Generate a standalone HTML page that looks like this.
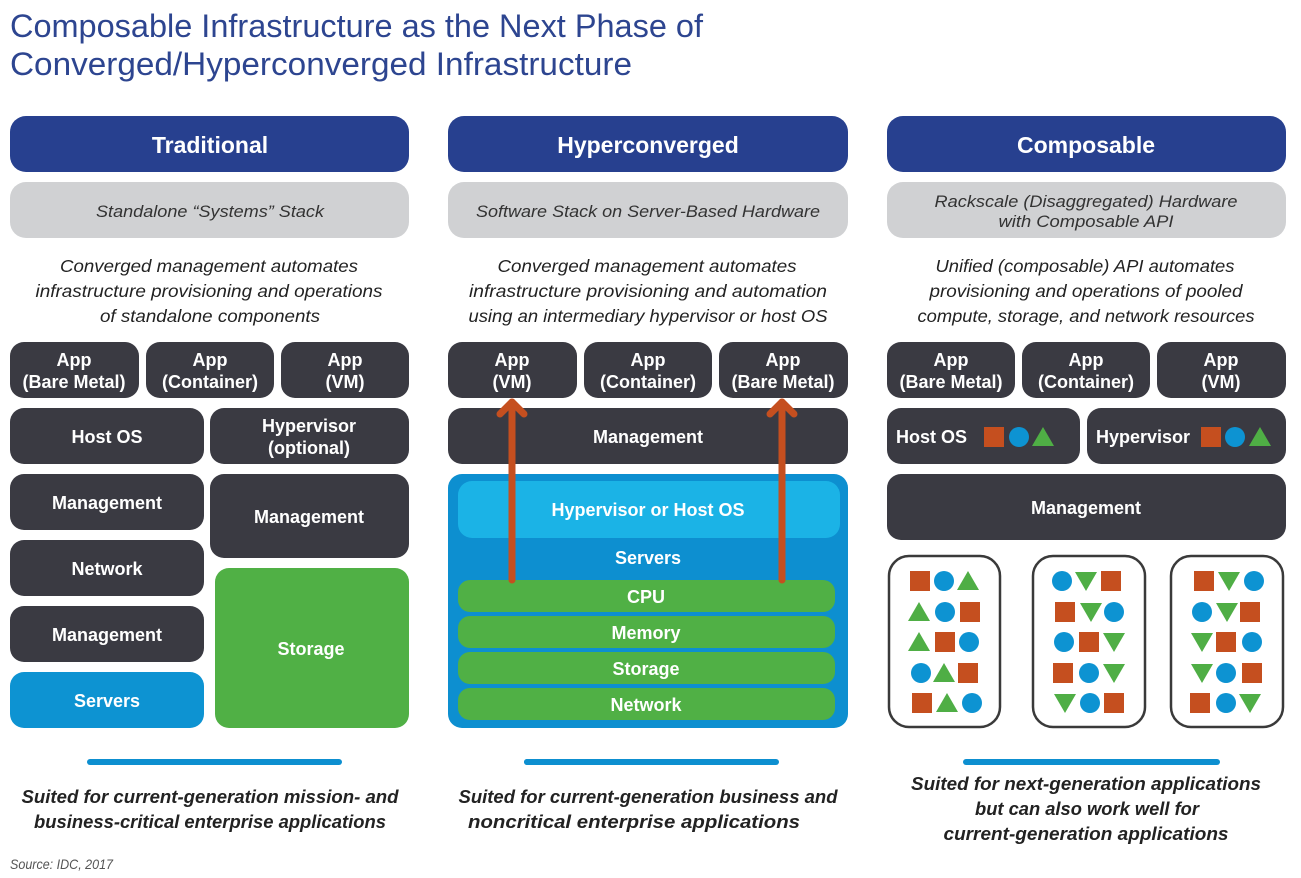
<!DOCTYPE html>
<html><head><meta charset="utf-8"><style>
html,body{margin:0;padding:0;background:#fff;}
svg{display:block;}
text{font-family:"Liberation Sans",sans-serif;}
.w{fill:#fff;font-weight:bold;font-size:18px;text-anchor:middle;}
.h{fill:#fff;font-weight:bold;font-size:23px;text-anchor:middle;}
.g{fill:#333;font-style:italic;font-size:17px;text-anchor:middle;}
.d{fill:#222;font-style:italic;font-size:17.5px;text-anchor:middle;}
.b{fill:#222;font-style:italic;font-weight:bold;font-size:18px;text-anchor:middle;}
.dk{fill:#3a3a42;}
</style></head><body>
<svg width="1301" height="878" viewBox="0 0 1301 878" xmlns="http://www.w3.org/2000/svg">
<defs>
<g id="S"><rect x="-10" y="-10" width="20" height="20" fill="#c54f1f"/></g>
<g id="C"><circle r="10" fill="#0d93d2"/></g>
<g id="T"><polygon points="0,-10 11,9 -11,9" fill="#4fae45"/></g>
<g id="V"><polygon points="0,10 11,-9 -11,-9" fill="#4fae45"/></g>
</defs>
<!-- title -->
<text x="10" y="37" font-size="32" fill="#2d4590" textLength="693" lengthAdjust="spacingAndGlyphs">Composable Infrastructure as the Next Phase of</text>
<text x="10" y="75" font-size="32" fill="#2d4590" textLength="622" lengthAdjust="spacingAndGlyphs">Converged/Hyperconverged Infrastructure</text>

<!-- headers -->
<rect x="10" y="116" width="399" height="56" rx="16" fill="#27408f"/>
<text class="h" x="210" y="153">Traditional</text>
<rect x="448" y="116" width="400" height="56" rx="16" fill="#27408f"/>
<text class="h" x="648" y="153">Hyperconverged</text>
<rect x="887" y="116" width="399" height="56" rx="16" fill="#27408f"/>
<text class="h" x="1086" y="153">Composable</text>

<rect x="10" y="182" width="399" height="56" rx="16" fill="#d0d1d3"/>
<text class="g" x="210" y="217" textLength="228" lengthAdjust="spacingAndGlyphs">Standalone “Systems” Stack</text>
<rect x="448" y="182" width="400" height="56" rx="16" fill="#d0d1d3"/>
<text class="g" x="648" y="217" textLength="344" lengthAdjust="spacingAndGlyphs">Software Stack on Server-Based Hardware</text>
<rect x="887" y="182" width="399" height="56" rx="16" fill="#d0d1d3"/>
<text class="g" x="1086" y="207" textLength="303" lengthAdjust="spacingAndGlyphs">Rackscale (Disaggregated) Hardware</text>
<text class="g" x="1086" y="227" textLength="175" lengthAdjust="spacingAndGlyphs">with Composable API</text>

<!-- descriptions -->
<text class="d" x="209" y="272" textLength="298" lengthAdjust="spacingAndGlyphs">Converged management automates</text>
<text class="d" x="209" y="297" textLength="347" lengthAdjust="spacingAndGlyphs">infrastructure provisioning and operations</text>
<text class="d" x="210" y="322" textLength="220" lengthAdjust="spacingAndGlyphs">of standalone components</text>
<text class="d" x="647" y="272" textLength="299" lengthAdjust="spacingAndGlyphs">Converged management automates</text>
<text class="d" x="648" y="297" textLength="358" lengthAdjust="spacingAndGlyphs">infrastructure provisioning and automation</text>
<text class="d" x="648" y="322" textLength="359" lengthAdjust="spacingAndGlyphs">using an intermediary hypervisor or host OS</text>
<text class="d" x="1085" y="272" textLength="299" lengthAdjust="spacingAndGlyphs">Unified (composable) API automates</text>
<text class="d" x="1086" y="297" textLength="313" lengthAdjust="spacingAndGlyphs">provisioning and operations of pooled</text>
<text class="d" x="1086" y="322" textLength="337" lengthAdjust="spacingAndGlyphs">compute, storage, and network resources</text>

<!-- col1 -->
<rect class="dk" x="10" y="342" width="129" height="56" rx="14"/>
<text class="w" x="74" y="366">App</text><text class="w" x="74" y="388">(Bare Metal)</text>
<rect class="dk" x="146" y="342" width="128" height="56" rx="14"/>
<text class="w" x="210" y="366">App</text><text class="w" x="210" y="388">(Container)</text>
<rect class="dk" x="281" y="342" width="128" height="56" rx="14"/>
<text class="w" x="345" y="366">App</text><text class="w" x="345" y="388">(VM)</text>
<rect class="dk" x="10" y="408" width="194" height="56" rx="14"/>
<text class="w" x="107" y="443">Host OS</text>
<rect class="dk" x="210" y="408" width="199" height="56" rx="14"/>
<text class="w" x="309" y="432">Hypervisor</text><text class="w" x="309" y="454">(optional)</text>
<rect class="dk" x="10" y="474" width="194" height="56" rx="14"/>
<text class="w" x="107" y="509">Management</text>
<rect class="dk" x="210" y="474" width="199" height="84" rx="14"/>
<text class="w" x="309" y="523">Management</text>
<rect class="dk" x="10" y="540" width="194" height="56" rx="14"/>
<text class="w" x="107" y="575">Network</text>
<rect class="dk" x="10" y="606" width="194" height="56" rx="14"/>
<text class="w" x="107" y="641">Management</text>
<rect x="10" y="672" width="194" height="56" rx="14" fill="#0d93d2"/>
<text class="w" x="107" y="707">Servers</text>
<rect x="215" y="568" width="194" height="160" rx="14" fill="#50b045"/>
<text class="w" x="311" y="655">Storage</text>

<!-- col2 -->
<rect class="dk" x="448" y="342" width="129" height="56" rx="14"/>
<text class="w" x="512" y="366">App</text><text class="w" x="512" y="388">(VM)</text>
<rect class="dk" x="584" y="342" width="128" height="56" rx="14"/>
<text class="w" x="648" y="366">App</text><text class="w" x="648" y="388">(Container)</text>
<rect class="dk" x="719" y="342" width="129" height="56" rx="14"/>
<text class="w" x="783" y="366">App</text><text class="w" x="783" y="388">(Bare Metal)</text>
<rect class="dk" x="448" y="408" width="400" height="56" rx="14"/>
<text class="w" x="648" y="443">Management</text>
<rect x="448" y="474" width="400" height="254" rx="14" fill="#0d8fd0"/>
<rect x="458" y="481" width="382" height="57" rx="14" fill="#1bb3e6"/>
<text class="w" x="648" y="516">Hypervisor or Host OS</text>
<text class="w" x="648" y="564">Servers</text>
<rect x="458" y="580" width="377" height="32" rx="12" fill="#50b045"/>
<text class="w" x="646" y="603">CPU</text>
<rect x="458" y="616" width="377" height="32" rx="12" fill="#50b045"/>
<text class="w" x="646" y="639">Memory</text>
<rect x="458" y="652" width="377" height="32" rx="12" fill="#50b045"/>
<text class="w" x="646" y="675">Storage</text>
<rect x="458" y="688" width="377" height="32" rx="12" fill="#50b045"/>
<text class="w" x="646" y="711">Network</text>
<g stroke="#c54f1f" stroke-width="7" fill="none" stroke-linecap="round" stroke-linejoin="round">
<line x1="512" y1="580" x2="512" y2="402"/><polyline points="500,414 512,402 524,414"/>
<line x1="782" y1="580" x2="782" y2="402"/><polyline points="770,414 782,402 794,414"/>
</g>

<!-- col3 -->
<rect class="dk" x="887" y="342" width="128" height="56" rx="14"/>
<text class="w" x="951" y="366">App</text><text class="w" x="951" y="388">(Bare Metal)</text>
<rect class="dk" x="1022" y="342" width="128" height="56" rx="14"/>
<text class="w" x="1086" y="366">App</text><text class="w" x="1086" y="388">(Container)</text>
<rect class="dk" x="1157" y="342" width="129" height="56" rx="14"/>
<text class="w" x="1221" y="366">App</text><text class="w" x="1221" y="388">(VM)</text>
<rect class="dk" x="887" y="408" width="193" height="56" rx="14"/>
<text class="w" x="896" y="443" style="text-anchor:start">Host OS</text>
<use href="#S" x="994" y="437"/><use href="#C" x="1019" y="437"/><use href="#T" x="1043" y="437"/>
<rect class="dk" x="1087" y="408" width="199" height="56" rx="14"/>
<text class="w" x="1096" y="443" style="text-anchor:start">Hypervisor</text>
<use href="#S" x="1211" y="437"/><use href="#C" x="1235" y="437"/><use href="#T" x="1260" y="437"/>
<rect class="dk" x="887" y="474" width="399" height="66" rx="14"/>
<text class="w" x="1086" y="514">Management</text>

<g fill="#fff" stroke="#3a3a3a" stroke-width="2.5">
<rect x="889" y="556" width="111" height="171" rx="20"/>
<rect x="1033" y="556" width="112" height="171" rx="20"/>
<rect x="1171" y="556" width="112" height="171" rx="20"/>
</g>
<!-- card1 -->
<use href="#S" x="920" y="581"/><use href="#C" x="944" y="581"/><use href="#T" x="968" y="581"/>
<use href="#T" x="919" y="612"/><use href="#C" x="945" y="612"/><use href="#S" x="970" y="612"/>
<use href="#T" x="919" y="642"/><use href="#S" x="945" y="642"/><use href="#C" x="969" y="642"/>
<use href="#C" x="921" y="673"/><use href="#T" x="944" y="673"/><use href="#S" x="968" y="673"/>
<use href="#S" x="922" y="703"/><use href="#T" x="947" y="703"/><use href="#C" x="972" y="703"/>
<!-- card2 -->
<use href="#C" x="1062" y="581"/><use href="#V" x="1086" y="581"/><use href="#S" x="1111" y="581"/>
<use href="#S" x="1065" y="612"/><use href="#V" x="1091" y="612"/><use href="#C" x="1114" y="612"/>
<use href="#C" x="1064" y="642"/><use href="#S" x="1089" y="642"/><use href="#V" x="1114" y="642"/>
<use href="#S" x="1063" y="673"/><use href="#C" x="1089" y="673"/><use href="#V" x="1114" y="673"/>
<use href="#V" x="1065" y="703"/><use href="#C" x="1090" y="703"/><use href="#S" x="1114" y="703"/>
<!-- card3 -->
<use href="#S" x="1204" y="581"/><use href="#V" x="1229" y="581"/><use href="#C" x="1254" y="581"/>
<use href="#C" x="1202" y="612"/><use href="#V" x="1227" y="612"/><use href="#S" x="1250" y="612"/>
<use href="#V" x="1202" y="642"/><use href="#S" x="1226" y="642"/><use href="#C" x="1252" y="642"/>
<use href="#V" x="1202" y="673"/><use href="#C" x="1226" y="673"/><use href="#S" x="1252" y="673"/>
<use href="#S" x="1200" y="703"/><use href="#C" x="1226" y="703"/><use href="#V" x="1250" y="703"/>

<!-- bottom lines -->
<g stroke="#0d8fd0" stroke-width="6" stroke-linecap="round">
<line x1="90" y1="762" x2="339" y2="762"/>
<line x1="527" y1="762" x2="645" y2="762"/><line x1="645" y1="762" x2="645" y2="762"/>
<line x1="527" y1="762" x2="776" y2="762"/>
<line x1="966" y1="762" x2="1217" y2="762"/>
</g>
<text class="b" x="210" y="803" textLength="377" lengthAdjust="spacingAndGlyphs">Suited for current-generation mission- and</text>
<text class="b" x="210" y="828" textLength="352" lengthAdjust="spacingAndGlyphs">business-critical enterprise applications</text>
<text class="b" x="648" y="803" textLength="379" lengthAdjust="spacingAndGlyphs">Suited for current-generation business and</text>
<text class="b" x="634" y="828" textLength="332" lengthAdjust="spacingAndGlyphs">noncritical enterprise applications</text>
<text class="b" x="1086" y="790" textLength="350" lengthAdjust="spacingAndGlyphs">Suited for next-generation applications</text>
<text class="b" x="1087" y="815" textLength="224" lengthAdjust="spacingAndGlyphs">but can also work well for</text>
<text class="b" x="1086" y="840" textLength="285" lengthAdjust="spacingAndGlyphs">current-generation applications</text>
<text x="10" y="869" font-size="14" font-style="italic" fill="#555" textLength="103" lengthAdjust="spacingAndGlyphs">Source: IDC, 2017</text>
</svg>
</body></html>
